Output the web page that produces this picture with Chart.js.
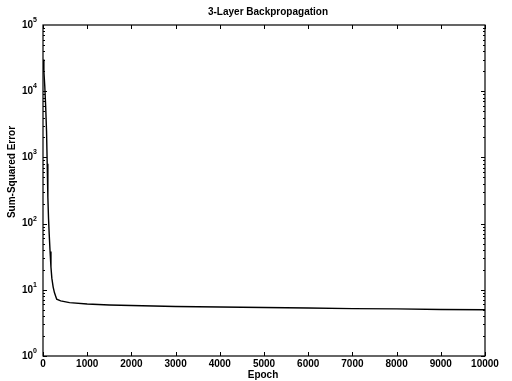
<!DOCTYPE html>
<html>
<head>
<meta charset="utf-8">
<script src="https://cdn.jsdelivr.net/npm/chart.js@4.4.1/dist/chart.umd.min.js"></script>
<style>
  html, body { margin: 0; padding: 0; background: #fff; }
  #wrap { width: 512px; height: 381px; }
</style>
</head>
<body>
<div id="wrap"><canvas id="chart" width="512" height="381"></canvas></div>
<script>
/* =============== Data =============== */
const chartTitle = "3-Layer Backpropagation";
const xTitle = "Epoch";
const yTitle = "Sum-Squared Error";

const epochs = [0, 20, 40, 60, 80, 95, 110, 125, 140, 160, 180, 200, 230, 260, 310, 400,
  600, 1000, 1500, 2000, 3000, 4000, 5000, 6000, 7000, 8000, 9000, 10000];
const sse = [30000, 20000, 12000, 6000, 2500, 800, 250, 120, 70, 38, 22, 15, 11, 9, 7.2, 6.8,
  6.4, 6.1, 5.9, 5.8, 5.6, 5.5, 5.4, 5.3, 5.2, 5.15, 5.05, 5.0];

const xTicks = [0, 1000, 2000, 3000, 4000, 5000, 6000, 7000, 8000, 9000, 10000];
const yTicks = [1, 10, 100, 1000, 10000, 100000];
const yExponents = ["0", "1", "2", "3", "4", "5"];

/* =============== Layout =============== */
const PLOT = { left: 43, top: 25, right: 485, bottom: 356 };
const FONT = "'Liberation Sans', Arial, sans-serif";

/* box + inward ticks on all four sides, y labels with exponents, axis titles */
const frame = {
  id: "frame",
  afterDraw(chart) {
    const { ctx, chartArea: a } = chart;
    const xs = chart.scales.x, ys = chart.scales.y;
    ctx.save();
    ctx.strokeStyle = "#000";
    ctx.lineWidth = 1.2;
    ctx.strokeRect(a.left, a.top, a.right - a.left, a.bottom - a.top);

    ctx.lineWidth = 1;
    ctx.beginPath();
    for (const v of xTicks) {
      const px = Math.round(xs.getPixelForValue(v)) + 0.5;
      ctx.moveTo(px, a.bottom); ctx.lineTo(px, a.bottom - 4);
      ctx.moveTo(px, a.top); ctx.lineTo(px, a.top + 4);
    }
    for (let d = 0; d < 5; d++) {
      for (let m = 1; m < 10; m++) {
        const v = Math.pow(10, d) * m;
        const py = Math.round(ys.getPixelForValue(v)) + 0.5;
        const len = m === 1 ? 4 : 2;
        ctx.moveTo(a.left, py); ctx.lineTo(a.left + len, py);
        ctx.moveTo(a.right, py); ctx.lineTo(a.right - len, py);
      }
    }
    ctx.stroke();

    ctx.fillStyle = "#000";
    // y tick labels: "10" with a raised exponent
    ctx.textBaseline = "middle";
    yTicks.forEach((v, i) => {
      const py = ys.getPixelForValue(v);
      ctx.font = "bold 7px " + FONT;
      ctx.textAlign = "left";
      ctx.fillText(yExponents[i], 33, py - 5);
      ctx.font = "bold 10px " + FONT;
      ctx.textAlign = "right";
      ctx.fillText("10", 33, py);
    });

    ctx.textAlign = "center";
    ctx.font = "bold 10px " + FONT;
    ctx.fillText(chartTitle, 268, 12);
    ctx.fillText(xTitle, 263, 375);
    ctx.translate(12, 172);
    ctx.rotate(-Math.PI / 2);
    ctx.fillText(yTitle, 0, 0);
    ctx.restore();
  }
};

/* =============== Chart =============== */
new Chart(document.getElementById("chart"), {
  type: "line",
  data: {
    datasets: [{
      data: epochs.map((e, i) => ({ x: e, y: sse[i] })),
      borderColor: "#000",
      borderWidth: 1.4,
      pointRadius: 0,
      tension: 0,
      fill: false
    }]
  },
  options: {
    responsive: false,
    animation: false,
    layout: { padding: { left: 0, top: PLOT.top, right: 512 - PLOT.right, bottom: 0 } },
    plugins: { legend: { display: false }, tooltip: { enabled: false } },
    scales: {
      x: {
        type: "linear",
        min: 0, max: 10000,
        afterFit(s) { s.height = 381 - PLOT.bottom; },
        afterBuildTicks(s) { s.ticks = xTicks.map(v => ({ value: v })); },
        grid: { display: false, drawTicks: false },
        border: { display: false },
        ticks: {
          color: "#000",
          font: { family: FONT, size: 10, weight: "bold" },
          padding: 2,
          maxRotation: 0,
          callback: (v) => String(v)
        }
      },
      y: {
        type: "logarithmic",
        min: 1, max: 100000,
        afterFit(s) { s.width = PLOT.left; },
        afterBuildTicks(s) { s.ticks = yTicks.map(v => ({ value: v })); },
        grid: { display: false, drawTicks: false },
        border: { display: false },
        ticks: { display: false }
      }
    }
  },
  plugins: [frame]
});
</script>
</body>
</html>
